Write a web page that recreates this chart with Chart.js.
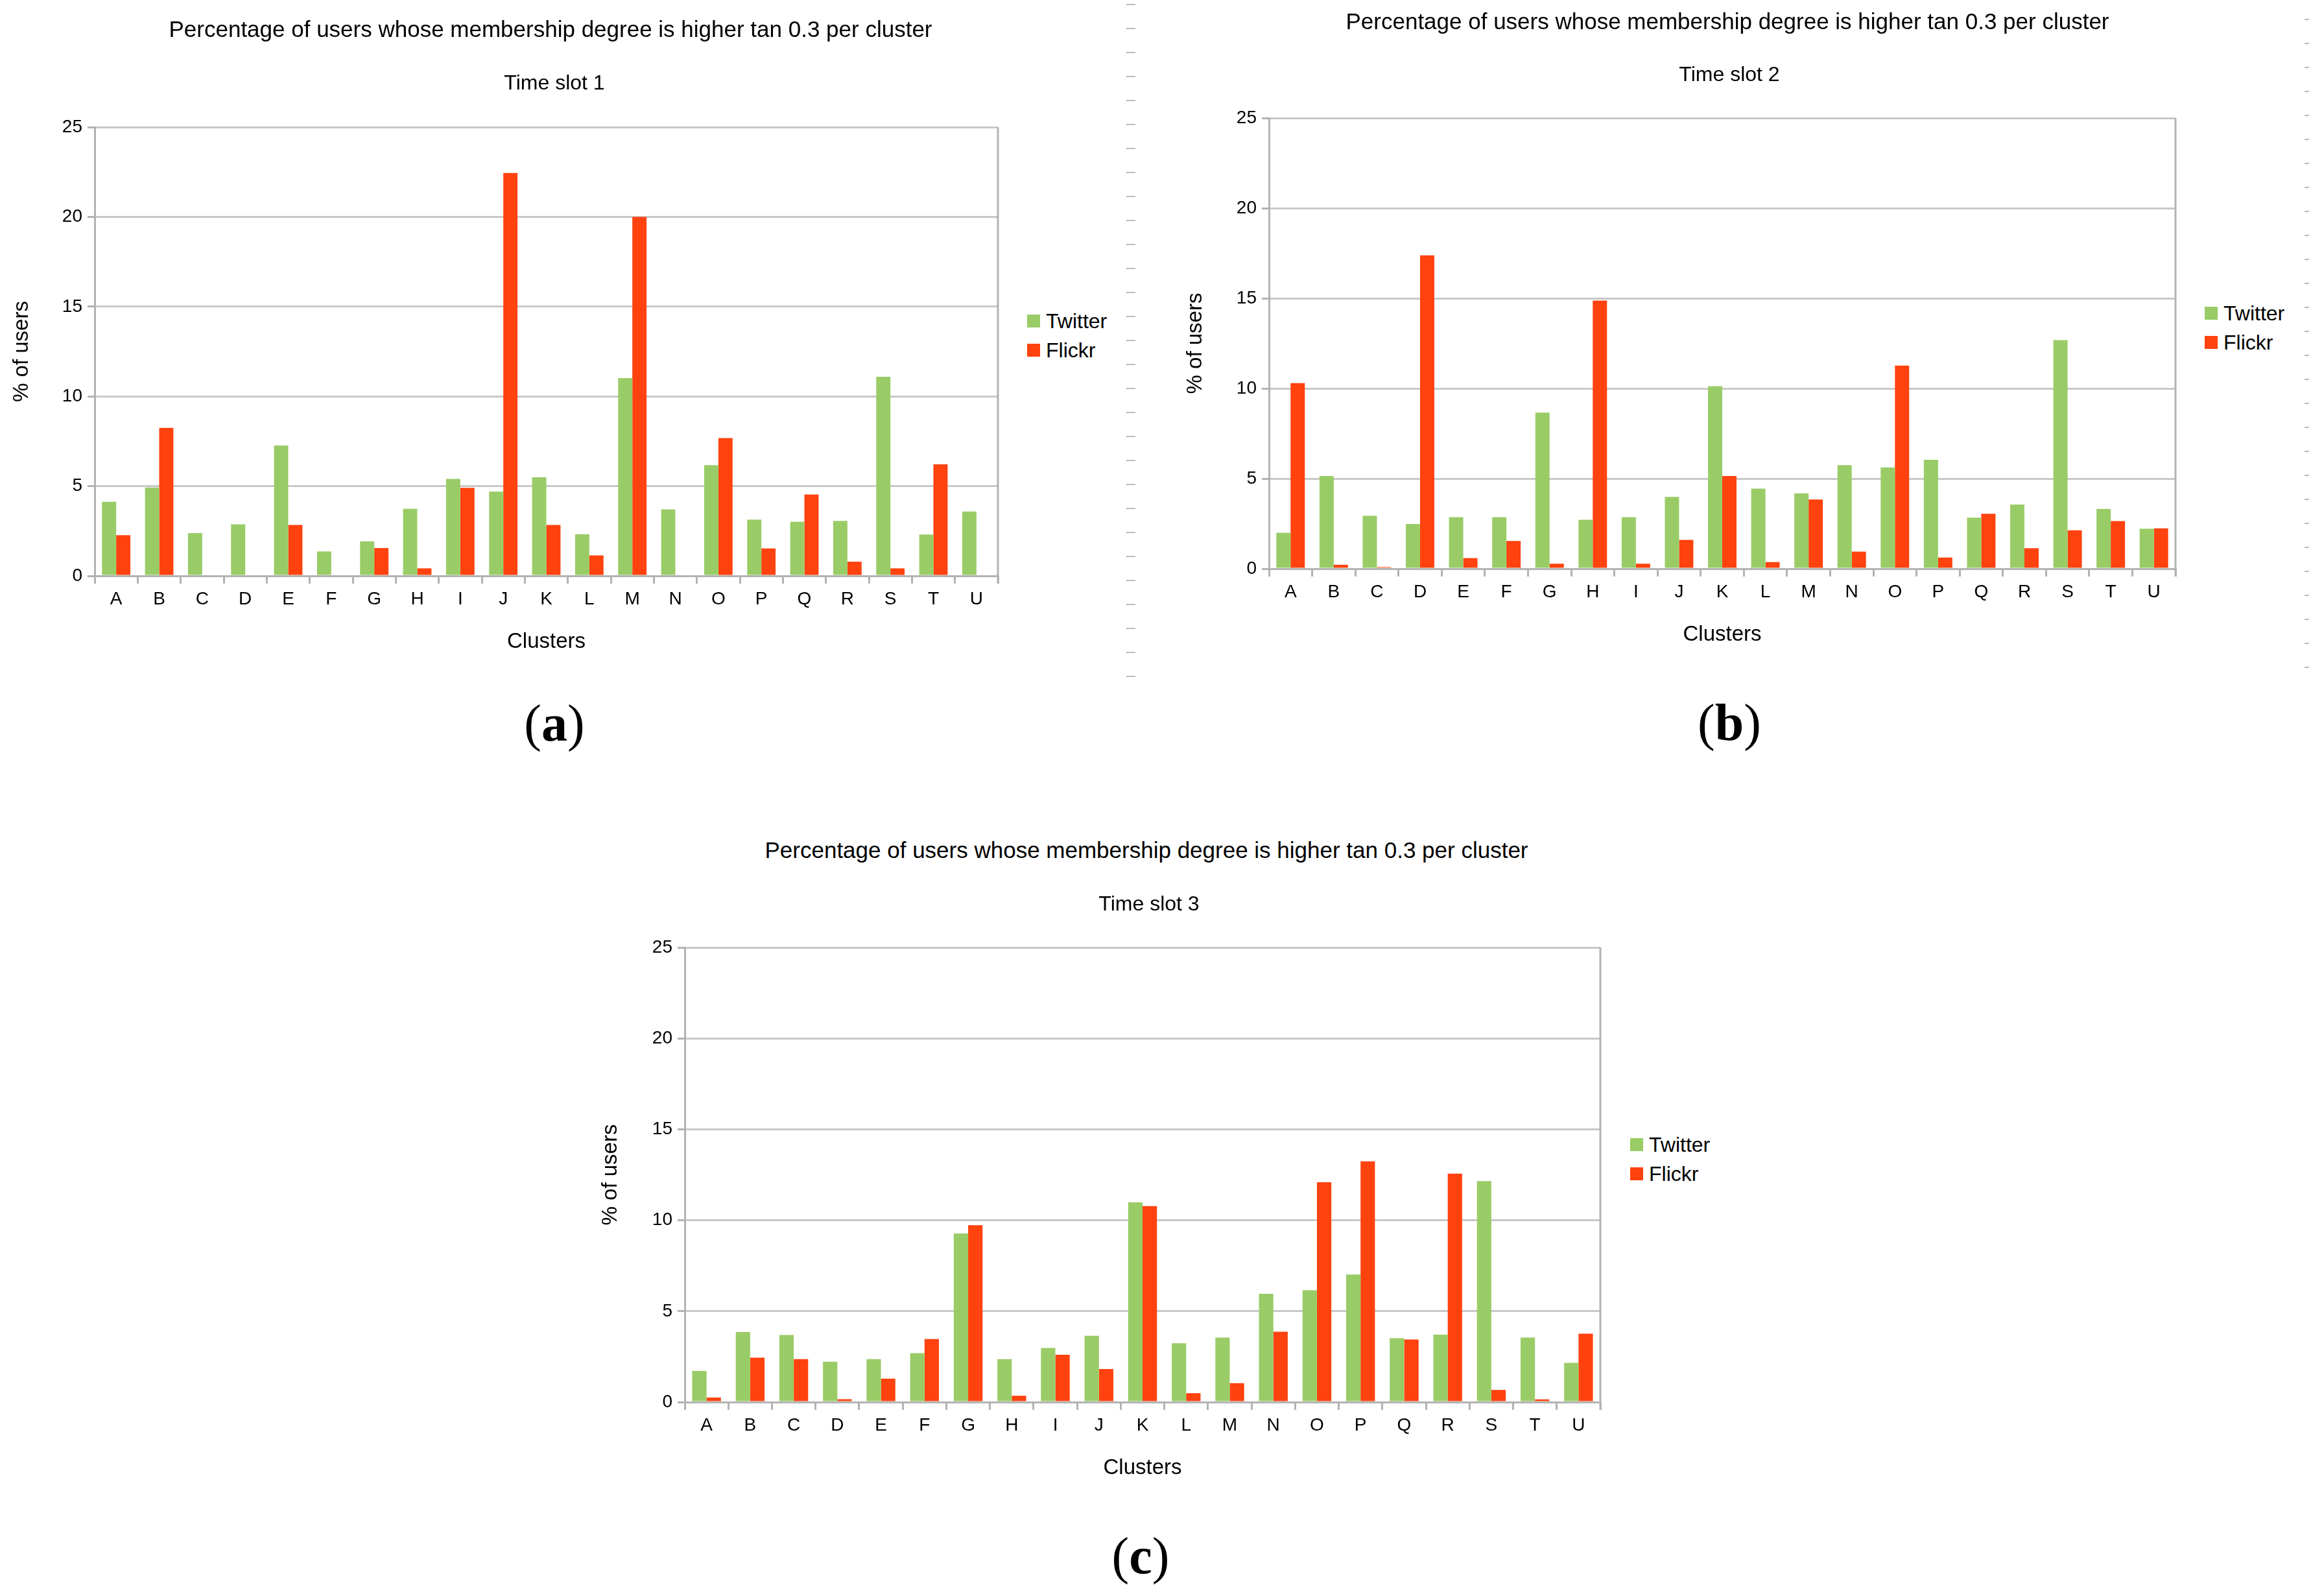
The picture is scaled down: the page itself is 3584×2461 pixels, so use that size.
<!DOCTYPE html>
<html>
<head>
<meta charset="utf-8">
<title>Membership degree per cluster</title>
<script src="https://cdn.jsdelivr.net/npm/chart.js@4.4.1/dist/chart.umd.min.js"></script>
<style>
  html, body { margin: 0; padding: 0; background: #fff; }
  body { width: 3584px; height: 2461px; position: relative; overflow: hidden;
         font-family: "Liberation Sans", Arial, sans-serif; color: #000; }
  canvas { position: absolute; }
  .txt { position: absolute; transform: translate(-50%, -50%); white-space: nowrap; line-height: 1; }
  .title { font-size: 35px; }
  .subtitle { font-size: 32px; }
  .letter { font-family: "Liberation Serif", "DejaVu Serif", serif; font-size: 80px; }
  .key { position: absolute; width: 20px; height: 20px; }
  .keyText { position: absolute; transform: translateY(-50%); font-size: 32px; line-height: 1; white-space: nowrap; }
  .dashes { position: absolute; background: repeating-linear-gradient(to bottom, #bdbdbd 0 2px, transparent 2px 37px); }
</style>
</head>
<body>
<div class="dashes" style="left:1737px;top:6px;width:14px;height:1040px"></div>
<div class="dashes" style="left:3554px;top:29px;width:7px;height:1010px"></div>
<script>
const clusters = ["A", "B", "C", "D", "E", "F", "G", "H", "I", "J", "K",
                  "L", "M", "N", "O", "P", "Q", "R", "S", "T", "U"];
const yTicks = [0, 5, 10, 15, 20, 25];
const seriesNames = ["Twitter", "Flickr"];
const chartTitle = "Percentage of users whose membership degree is higher tan 0.3 per cluster";
const slotTitles = ["Time slot 1", "Time slot 2", "Time slot 3"];
const panelLetters = ["a", "b", "c"];

const twitterSlot1 = [4.13, 4.92, 2.38, 2.87, 7.26, 1.36, 1.92, 3.74, 5.40, 4.70, 5.49,
                      2.32, 11.02, 3.70, 6.17, 3.13, 3.02, 3.06, 11.09, 2.30, 3.59];
const flickrSlot1  = [2.27, 8.25, 0, 0, 2.84, 0, 1.55, 0.42, 4.90, 22.44, 2.84,
                      1.14, 20.0, 0, 7.68, 1.53, 4.53, 0.79, 0.42, 6.21, 0];

const twitterSlot2 = [2.00, 5.14, 2.94, 2.48, 2.86, 2.86, 8.66, 2.72, 2.86, 3.98, 10.13,
                      4.44, 4.18, 5.75, 5.62, 6.04, 2.83, 3.56, 12.68, 3.32, 2.22];
const flickrSlot2  = [10.30, 0.22, 0.09, 17.38, 0.59, 1.54, 0.28, 14.87, 0.28, 1.60, 5.14,
                      0.37, 3.84, 0.95, 11.27, 0.62, 3.05, 1.14, 2.13, 2.64, 2.24];

const twitterSlot3 = [1.71, 3.85, 3.69, 2.22, 2.36, 2.69, 9.27, 2.36, 2.98, 3.65, 10.98,
                      3.24, 3.55, 5.96, 6.15, 7.02, 3.51, 3.71, 12.15, 3.55, 2.16];
const flickrSlot3  = [0.25, 2.44, 2.36, 0.16, 1.29, 3.47, 9.73, 0.35, 2.60, 1.82, 10.78,
                      0.49, 1.04, 3.87, 12.09, 13.24, 3.44, 12.56, 0.67, 0.15, 3.76];

const twitterBySlot = [twitterSlot1, twitterSlot2, twitterSlot3];
const flickrBySlot = [flickrSlot1, flickrSlot2, flickrSlot3];

// styling
const seriesColors = ["#99cc66", "#ff420e"];
const fontFamily = '"Liberation Sans", Arial, sans-serif';
const frameColor = "#b3b3b3";

// where each panel sits on the page (pixels)
const layouts = [
  { canvas: [0, 0, 1560, 1010],    pad: { left: 14, top: 196, right: 21, bottom: 0 }, yWidth: 132, xHeight: 122,
    title: [849, 44],   subtitle: [855, 127],  legend: [1584, 485],  letter: [855, 1115] },
  { canvas: [1800, 0, 1570, 999],  pad: { left: 24, top: 182, right: 15, bottom: 0 }, yWidth: 133, xHeight: 122,
    title: [2664, 32],  subtitle: [2667, 114], legend: [3400, 473],  letter: [2667, 1114] },
  { canvas: [900, 1400, 1580, 884], pad: { left: 22, top: 61, right: 12, bottom: 0 }, yWidth: 134, xHeight: 122,
    title: [1768, 1310], subtitle: [1772, 1393], legend: [2514, 1755], letter: [1759, 2399] }
];

// right edge of the plot frame (left/bottom come from the axes, top from the 25 grid line)
const plotFrame = {
  id: "plotFrame",
  beforeDatasetsDraw(chart) {
    const { ctx, chartArea } = chart;
    ctx.save();
    ctx.strokeStyle = frameColor;
    ctx.lineWidth = 3;
    ctx.beginPath();
    ctx.moveTo(chartArea.right, chartArea.top);
    ctx.lineTo(chartArea.right, chartArea.bottom + 12);
    ctx.stroke();
    ctx.restore();
  }
};

function addText(cls, text, x, y) {
  const el = document.createElement("div");
  el.className = "txt " + cls;
  el.style.left = x + "px";
  el.style.top = y + "px";
  el.textContent = text;
  document.body.appendChild(el);
  return el;
}

function addLegend(x, y) {
  seriesNames.forEach((name, k) => {
    const top = y + k * 45;
    const box = document.createElement("div");
    box.className = "key";
    box.style.left = x + "px";
    box.style.top = top + "px";
    box.style.background = seriesColors[k];
    document.body.appendChild(box);
    const label = document.createElement("div");
    label.className = "keyText";
    label.style.left = (x + 29) + "px";
    label.style.top = (top + 10) + "px";
    label.textContent = name;
    document.body.appendChild(label);
  });
}

function drawPanel(i) {
  const L = layouts[i];
  const canvas = document.createElement("canvas");
  canvas.width = L.canvas[2];
  canvas.height = L.canvas[3];
  canvas.style.left = L.canvas[0] + "px";
  canvas.style.top = L.canvas[1] + "px";
  document.body.appendChild(canvas);

  const slotData = [twitterBySlot[i], flickrBySlot[i]];

  new Chart(canvas, {
    type: "bar",
    data: {
      labels: clusters,
      datasets: seriesNames.map((name, k) => ({
        label: name,
        data: slotData[k],
        backgroundColor: seriesColors[k],
        borderWidth: 0,
        categoryPercentage: 0.66,
        barPercentage: 1
      }))
    },
    options: {
      responsive: false,
      animation: false,
      devicePixelRatio: 1,
      layout: { padding: L.pad },
      plugins: {
        legend: { display: false },
        tooltip: { enabled: false }
      },
      scales: {
        x: {
          grid: { offset: true, drawOnChartArea: false, color: frameColor, lineWidth: 3, tickLength: 12 },
          border: { color: frameColor, width: 3 },
          ticks: { color: "#000", font: { family: fontFamily, size: 28 }, padding: 7, maxRotation: 0, autoSkip: false },
          title: { display: true, text: "Clusters", color: "#000", font: { family: fontFamily, size: 33 }, padding: 0 },
          afterFit: scale => { scale.height = L.xHeight; }
        },
        y: {
          min: yTicks[0],
          max: yTicks[yTicks.length - 1],
          afterBuildTicks: scale => { scale.ticks = yTicks.map(v => ({ value: v })); },
          grid: { color: "#c8c8c8", lineWidth: 3, tickLength: 11, tickColor: frameColor },
          border: { color: frameColor, width: 3 },
          ticks: { color: "#000", font: { family: fontFamily, size: 28 }, padding: 8 },
          title: { display: true, text: "% of users", color: "#000", font: { family: fontFamily, size: 33 }, padding: 0 },
          afterFit: scale => { scale.width = L.yWidth; }
        }
      }
    },
    plugins: [plotFrame]
  });

  addText("title", chartTitle, L.title[0], L.title[1]);
  addText("subtitle", slotTitles[i], L.subtitle[0], L.subtitle[1]);
  addLegend(L.legend[0], L.legend[1]);
  const letter = addText("letter", "", L.letter[0], L.letter[1]);
  letter.append("(");
  const b = document.createElement("b");
  b.textContent = panelLetters[i];
  letter.append(b, ")");
}

[0, 1, 2].forEach(drawPanel);
</script>
</body>
</html>
